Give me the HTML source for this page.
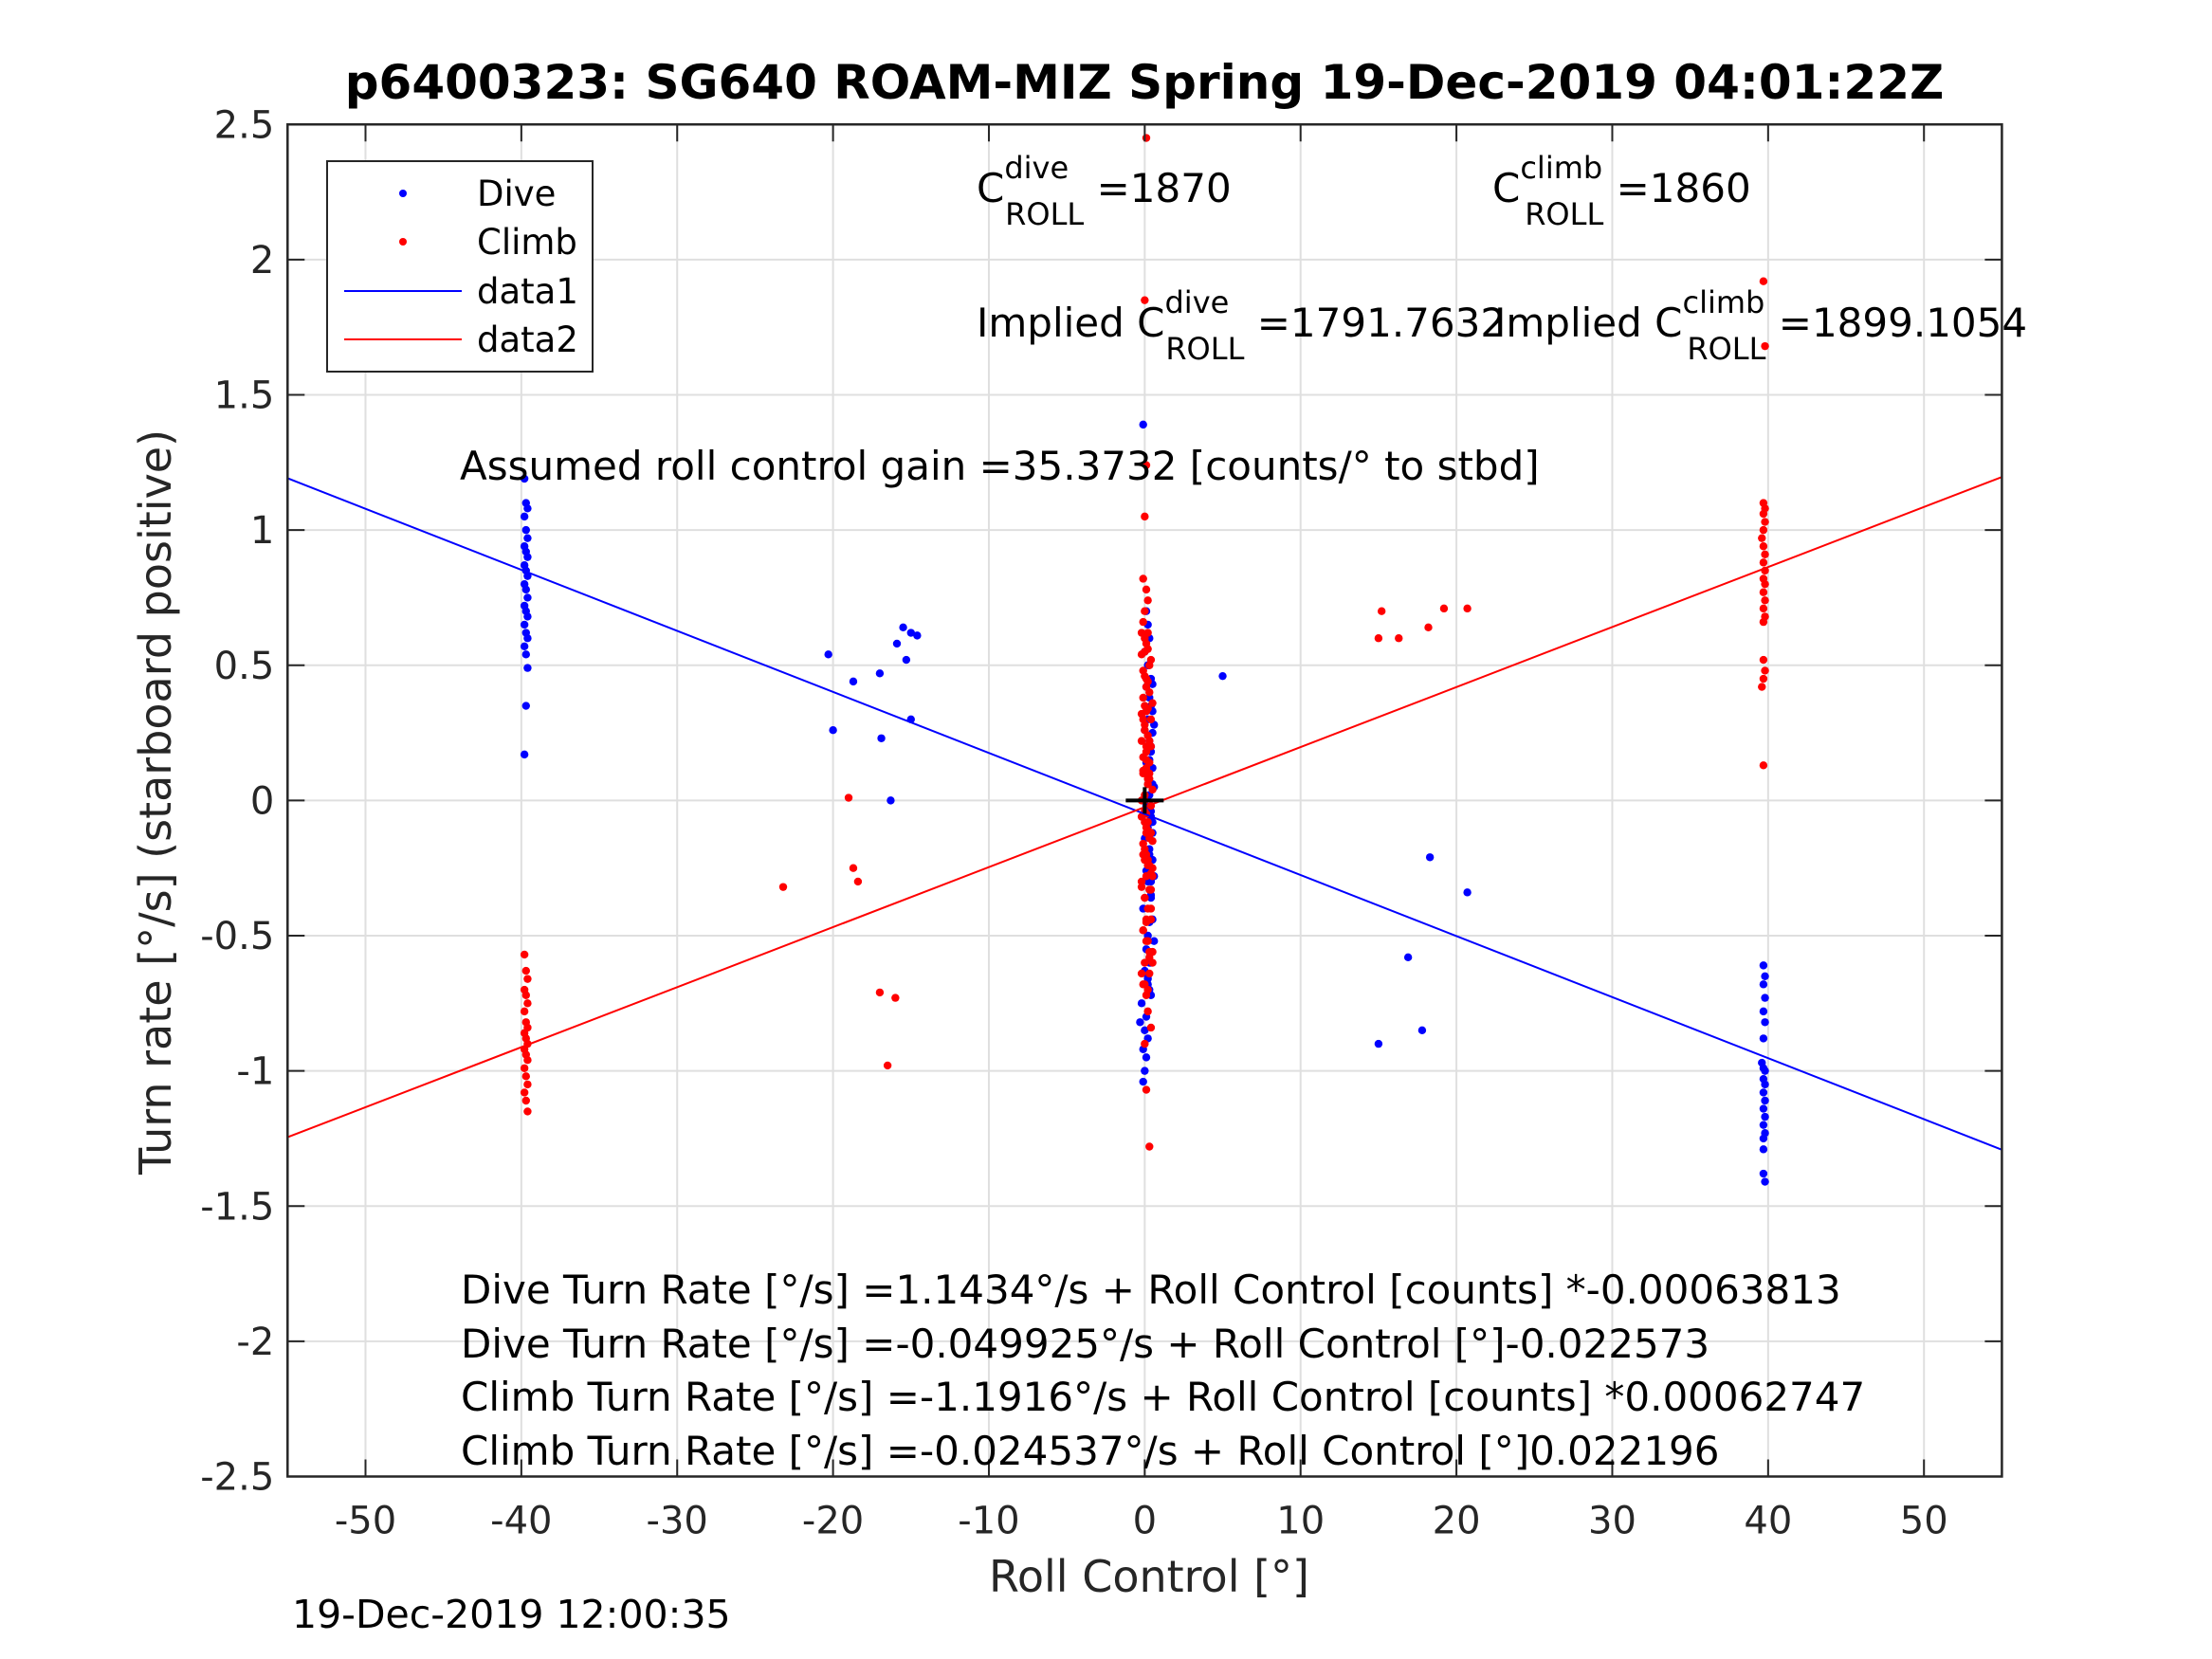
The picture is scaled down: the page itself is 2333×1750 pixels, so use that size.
<!DOCTYPE html>
<html><head><meta charset="utf-8"><style>
html,body{margin:0;padding:0;background:#fff;}
svg{display:block;font-family:"DejaVu Sans","Liberation Sans",sans-serif;}
</style></head><body>
<svg id="chart" width="2333" height="1750" viewBox="0 0 2333 1750" xmlns="http://www.w3.org/2000/svg">
<rect width="2333" height="1750" fill="#fff"/>
<text x="1207" y="104" font-size="50" font-weight="bold" text-anchor="middle" fill="#000">p6400323: SG640 ROAM-MIZ Spring 19-Dec-2019 04:01:22Z</text>
<g id="grid"></g>
<g id="series"></g>
<g id="axes"></g>
<g font-size="42" fill="#000">
<text x="1030" y="213">C<tspan font-size="32" dy="-25">dive</tspan><tspan font-size="32" dx="-67" dy="49">ROLL</tspan><tspan dy="-24"> =1870</tspan></text>
<text x="1574" y="213">C<tspan font-size="32" dy="-25">climb</tspan><tspan font-size="32" dx="-82" dy="49">ROLL</tspan><tspan dy="-24"> =1860</tspan></text>
<text x="1030" y="355">Implied C<tspan font-size="32" dy="-25">dive</tspan><tspan font-size="32" dx="-67" dy="49">ROLL</tspan><tspan dy="-24"> =1791.7632</tspan></text>
<text x="1576" y="355">Implied C<tspan font-size="32" dy="-25">climb</tspan><tspan font-size="32" dx="-82" dy="49">ROLL</tspan><tspan dy="-24"> =1899.1054</tspan></text>
<text x="485" y="506">Assumed roll control gain =35.3732 [counts/° to stbd]</text>
<text x="486" y="1375">Dive Turn Rate [°/s] =1.1434°/s + Roll Control [counts] *-0.00063813</text>
<text x="486" y="1432">Dive Turn Rate [°/s] =-0.049925°/s + Roll Control [°]-0.022573</text>
<text x="486" y="1488">Climb Turn Rate [°/s] =-1.1916°/s + Roll Control [counts] *0.00062747</text>
<text x="486" y="1545">Climb Turn Rate [°/s] =-0.024537°/s + Roll Control [°]0.022196</text>
</g>
<g>
<rect x="345" y="170" width="280" height="222" fill="#fff" stroke="#262626" stroke-width="2"/>
<circle cx="425" cy="204" r="4" fill="#0000ff"/>
<text x="503" y="217" font-size="37">Dive</text>
<circle cx="425" cy="255" r="4" fill="#ff0000"/>
<text x="503" y="268" font-size="37">Climb</text>
<line x1="363" y1="307" x2="487" y2="307" stroke="#0000ff" stroke-width="2"/>
<text x="503" y="320" font-size="37">data1</text>
<line x1="363" y1="358" x2="487" y2="358" stroke="#ff0000" stroke-width="2"/>
<text x="503" y="371" font-size="37">data2</text>
</g>
<text x="1212" y="1679" font-size="46" text-anchor="middle" fill="#262626">Roll Control [°]</text>
<text transform="translate(180,846) rotate(-90)" font-size="46" text-anchor="middle" fill="#262626">Turn rate [°/s] (starboard positive)</text>
<text x="308" y="1717" font-size="41" fill="#000">19-Dec-2019 12:00:35</text>
</svg>
<script>
const xTicks=[-50,-40,-30,-20,-10,0,10,20,30,40,50];
const yTicks=[-2.5,-2,-1.5,-1,-0.5,0,0.5,1,1.5,2,2.5];
const yTickLabels=["-2.5","-2","-1.5","-1","-0.5","0","0.5","1","1.5","2","2.5"];
const diveFit=[-0.049925,-0.022573];
const climbFit=[-0.024537,0.022196];
const diveX=[-39.8,-39.7,-39.6,-39.8,-39.7,-39.6,-39.8,-39.7,-39.6,-39.8,-39.7,-39.6,-39.8,-39.7,-39.6,-39.8,-39.7,-39.6,-39.8,-39.7,-39.6,-39.8,-39.7,-39.6,-39.7,-39.8,
-20.3,-20,-18.7,-17,-16.9,-16.3,-15.9,-15.5,-15.3,-15,-14.6,-15,5,16.9,18.3,20.7,15,17.8,
39.7,39.8,39.7,39.8,39.7,39.8,39.7,39.6,39.7,39.8,39.7,39.8,39.7,39.8,39.7,39.8,39.7,39.8,39.7,39.7,39.7,39.8,
-0.1,0.1,0.2,0.3,0.0,0.2,0.4,0.1,0.3,0.5,0.2,0.0,0.3,0.4,0.1,0.2,0.5,0.3,0.1,0.4,0.2,0.0,0.3,0.5,0.1,0.2,0.4,-0.1,0.3,0.2,0.1,0.4,0.0,0.2,0.3,-0.2,0.1,-0.3,0.0,0.2,-0.1,0.1,0.0,-0.1,0.2,
0.5,0.6,0.4,0.5,0.6,0.4,0.5,0.3,0.6,0.4,0.5,0.6,0.3,0.4,0.5,0.2,0.4,0.3,0.5,0.4];
const diveY=[1.19,1.1,1.08,1.05,1.0,0.97,0.94,0.92,0.9,0.87,0.85,0.83,0.8,0.78,0.75,0.72,0.7,0.68,0.65,0.62,0.6,0.57,0.54,0.49,0.35,0.17,
0.54,0.26,0.44,0.47,0.23,0.0,0.58,0.64,0.52,0.62,0.61,0.30,0.46,-0.58,-0.21,-0.34,-0.90,-0.85,
-0.61,-0.65,-0.68,-0.73,-0.78,-0.82,-0.88,-0.97,-0.99,-1.0,-1.03,-1.05,-1.08,-1.11,-1.14,-1.17,-1.2,-1.23,-1.25,-1.29,-1.38,-1.41,
1.39,0.7,0.65,0.6,0.55,0.5,0.45,0.42,0.38,0.33,0.3,0.26,0.22,0.18,0.14,0.1,0.06,0.02,-0.02,-0.06,-0.1,-0.14,-0.18,-0.22,-0.26,-0.3,-0.35,-0.4,-0.45,-0.5,-0.55,-0.6,-0.63,-0.66,-0.7,-0.75,-0.8,-0.82,-0.85,-0.88,-0.92,-0.95,-1.0,-1.04,-0.68,
0.43,0.28,0.2,0.12,0.05,-0.04,-0.12,-0.2,-0.28,-0.36,-0.44,-0.52,-0.6,0.35,0.25,-0.65,-0.72,0.15,-0.08,-0.3];
const climbX=[-39.8,-39.7,-39.6,-39.8,-39.7,-39.6,-39.8,-39.7,-39.6,-39.8,-39.7,-39.6,-39.8,-39.7,-39.6,-39.8,-39.7,-39.6,-39.8,-39.7,-39.6,
-23.2,-19,-18.7,-18.4,-17,-16,-16.5,15.2,15,16.3,18.2,19.2,20.7,
39.7,39.8,39.7,39.8,39.7,39.8,39.7,39.6,39.7,39.8,39.7,39.8,39.7,39.8,39.7,39.8,39.7,39.8,39.7,39.7,39.8,39.7,39.6,39.7,
0.1,0.0,0.1,0.0,-0.1,0.1,0.2,0.0,-0.1,0.2,0.1,-0.2,0.3,0.0,0.1,-0.1,0.2,0.4,0.0,-0.2,0.1,0.3,-0.1,0.2,0.0,0.4,-0.2,0.1,0.3,0.0,-0.1,0.2,0.5,0.1,-0.2,0.3,0.0,0.4,0.1,-0.1,0.2,0.5,0.0,0.3,-0.1,0.1,0.2,0.4,0.0,0.1,0.3,0.2,0.0,0.1,0.2,0.0,0.1,0.0,0.1,
-0.2,0.0,0.2,0.4,-0.1,0.1,0.3,0.5,-0.2,0.0,0.2,0.4,-0.1,0.1,0.3,0.5,-0.2,0.0,0.2,0.4,-0.1,0.1,0.3,0.5,-0.2,0.0,0.2,0.4,-0.1,0.1,0.3,0.5,-0.2,0.0,0.2,0.4,-0.1,0.1,0.3,0.5,0.0,0.2,0.1,0.3,-0.1,0.2,0.0,0.4,0.1,0.3];
const climbY=[-0.57,-0.63,-0.66,-0.7,-0.72,-0.75,-0.78,-0.82,-0.84,-0.86,-0.88,-0.9,-0.92,-0.94,-0.96,-0.99,-1.02,-1.05,-1.08,-1.11,-1.15,
-0.32,0.01,-0.25,-0.3,-0.71,-0.73,-0.98,0.7,0.6,0.6,0.64,0.71,0.71,
1.92,1.68,1.1,1.08,1.06,1.03,1.0,0.97,0.94,0.91,0.88,0.85,0.82,0.8,0.77,0.74,0.71,0.68,0.66,0.52,0.48,0.45,0.42,0.13,
2.45,1.85,1.24,1.05,0.82,0.78,0.74,0.7,0.66,0.62,0.58,0.54,0.5,0.46,0.42,0.38,0.34,0.3,0.26,0.22,0.18,0.14,0.1,0.06,0.02,-0.02,-0.06,-0.1,-0.14,-0.18,-0.2,-0.22,-0.25,-0.28,-0.3,-0.33,-0.36,-0.4,-0.44,-0.48,-0.52,-0.56,-0.6,-0.64,-0.68,-0.72,-0.78,-0.84,-0.9,-1.07,-1.28,0.08,-0.08,0.2,-0.24,0.35,-0.12,0.0,0.15,
0.62,0.6,0.56,0.52,0.48,0.45,0.4,0.36,0.32,0.28,0.24,0.2,0.16,0.12,0.08,0.04,0.0,-0.04,-0.08,-0.12,-0.16,-0.2,-0.24,-0.28,-0.32,-0.36,-0.4,-0.44,-0.48,-0.52,-0.56,-0.6,-0.64,-0.68,-0.7,-0.27,0.3,-0.05,0.1,-0.15,0.55,0.44,0.33,0.22,0.11,-0.11,-0.22,-0.33,-0.45,-0.58];
const X0=303.3,X1=2111.4,Y0=1557.5,Y1=131.25,XMIN=-55,XMAX=55,YMIN=-2.5,YMAX=2.5;
const sx=v=>X0+(v-XMIN)/(XMAX-XMIN)*(X1-X0);
const sy=v=>Y0-(v-YMIN)/(YMAX-YMIN)*(Y0-Y1);
const NS="http://www.w3.org/2000/svg";
function mk(tag,attrs,parent){const e=document.createElementNS(NS,tag);for(const k in attrs)e.setAttribute(k,attrs[k]);parent.appendChild(e);return e;}
const grid=document.getElementById('grid'),axes=document.getElementById('axes'),series=document.getElementById('series');
xTicks.forEach(t=>{
  const g=mk('line',{x1:sx(t),x2:sx(t),y1:Y1,y2:Y0,stroke:'#dfdfdf','stroke-width':2},grid);
  
  
  const a=mk('line',{x1:sx(t),x2:sx(t),y1:Y0,y2:Y0-18,stroke:'#262626','stroke-width':2},axes);
  
  
  const b=mk('line',{x1:sx(t),x2:sx(t),y1:Y1,y2:Y1+18,stroke:'#262626','stroke-width':2},axes);
  
  
  const l=mk('text',{x:sx(t),y:Y0+60,'font-size':40,'text-anchor':'middle',fill:'#262626'},axes);
  l.textContent=String(t);
  
  
});
yTicks.forEach((t,i)=>{
  const g=mk('line',{x1:X0,x2:X1,y1:sy(t),y2:sy(t),stroke:'#dfdfdf','stroke-width':2},grid);
  
  
  const a=mk('line',{x1:X0,x2:X0+18,y1:sy(t),y2:sy(t),stroke:'#262626','stroke-width':2},axes);
  
  
  const b=mk('line',{x1:X1,x2:X1-18,y1:sy(t),y2:sy(t),stroke:'#262626','stroke-width':2},axes);
  
  
  const l=mk('text',{x:X0-14,y:sy(t)+14,'font-size':40,'text-anchor':'end',fill:'#262626'},axes);
  l.textContent=yTickLabels[i];
  
  
});
const box=mk('rect',{x:X0,y:Y1,width:X1-X0,height:Y0-Y1,fill:'none',stroke:'#262626','stroke-width':2.5},axes);


diveX.forEach((v,i)=>{
  const c=mk('circle',{cx:sx(v),cy:sy(diveY[i]),r:4.2,fill:'#0000ff'},series);
  
  
});
climbX.forEach((v,i)=>{
  const c=mk('circle',{cx:sx(v),cy:sy(climbY[i]),r:4.2,fill:'#ff0000'},series);
  
  
});
const l1=mk('line',{x1:sx(XMIN),y1:sy(diveFit[0]+diveFit[1]*XMIN),x2:sx(XMAX),y2:sy(diveFit[0]+diveFit[1]*XMAX),stroke:'#0000ff','stroke-width':2},series);


const l2=mk('line',{x1:sx(XMIN),y1:sy(climbFit[0]+climbFit[1]*XMIN),x2:sx(XMAX),y2:sy(climbFit[0]+climbFit[1]*XMAX),stroke:'#ff0000','stroke-width':2},series);


const p1=mk('line',{x1:sx(0)-20,x2:sx(0)+20,y1:sy(0),y2:sy(0),stroke:'#000','stroke-width':4},series);


const p2=mk('line',{x1:sx(0),x2:sx(0),y1:sy(0)-14,y2:sy(0)+14,stroke:'#000','stroke-width':4},series);


</script>
</body></html>
